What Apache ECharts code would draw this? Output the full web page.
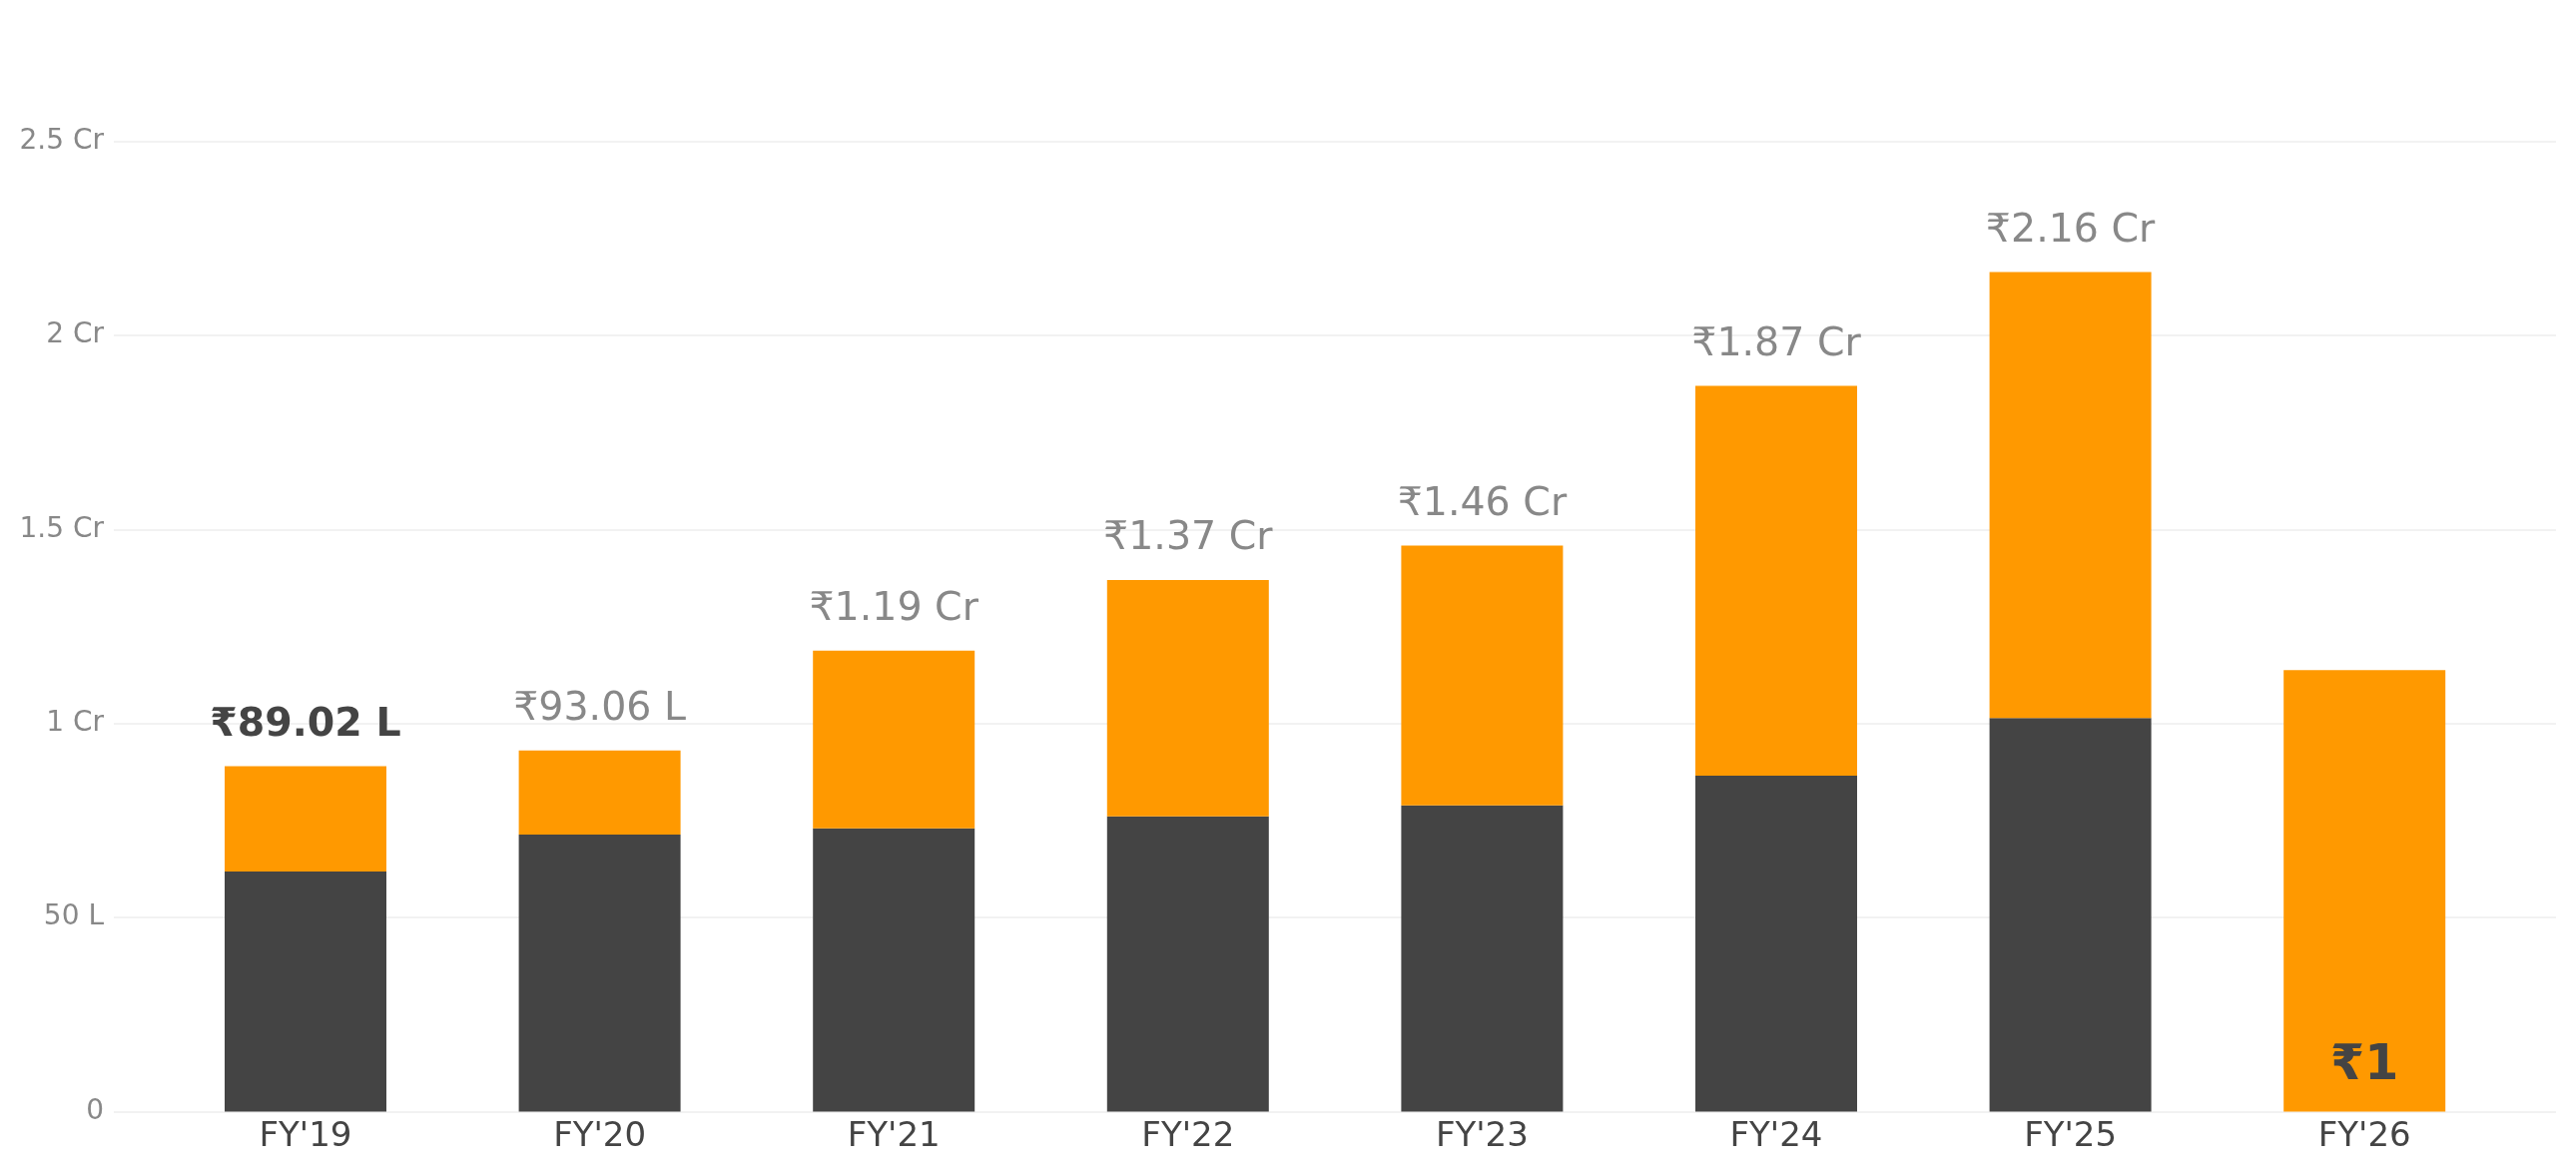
<!DOCTYPE html>
<html>
<head>
<meta charset="utf-8">
<script src="https://cdn.jsdelivr.net/npm/echarts@6/dist/echarts.min.js"></script>
<style>
html,body{margin:0;padding:0;background:#fff;}
#chart{width:2580px;height:1177px;}
</style>
</head>
<body>
<div id="chart"></div>
<script>
var categories = ["FY'19","FY'20","FY'21","FY'22","FY'23","FY'24","FY'25","FY'26"];
var darkValues = [6190000, 7140000, 7300000, 7607000, 7890000, 8657000, 10144000, 1];
var orangeValues = [2712000, 2166000, 4580000, 6093000, 6696000, 10043000, 11486000, 11374000];
var totalLabels = ['₹89.02 L','₹93.06 L','₹1.19 Cr','₹1.37 Cr','₹1.46 Cr','₹1.87 Cr','₹2.16 Cr','₹1'];
var yTickValues = [0, 5000000, 10000000, 15000000, 20000000, 25000000];
var yTickLabels = ['0','50 L','1 Cr','1.5 Cr','2 Cr','2.5 Cr'];

var FONT = 'DejaVu Sans';
var TOP = 141.5, BOTTOM = 63.4;

var orangeData = orangeValues.map(function (v, i) {
  var item = {value: v};
  if (i === 0) {
    item.label = {color: '#444444', fontWeight: 'bold'};
  }
  if (i === categories.length - 1) {
    item.label = {position: 'insideBottom', distance: 21, color: '#444444', fontWeight: 'bold', fontSize: 49};
  }
  return item;
});

var chart = echarts.init(document.getElementById('chart'), null, {renderer: 'canvas'});
chart.setOption({
  animation: false,
  backgroundColor: '#ffffff',
  grid: [
    {left: 114, right: 20, top: TOP, bottom: BOTTOM},
    {left: 158.7, right: 64.5, top: TOP, bottom: BOTTOM}
  ],
  xAxis: [
    {type: 'category', gridIndex: 0, data: categories, show: false},
    {
      type: 'category', gridIndex: 1, data: categories,
      axisLine: {show: false}, axisTick: {show: false},
      axisLabel: {color: '#444444', fontFamily: FONT, fontSize: 34, margin: 9}
    }
  ],
  yAxis: [
    {
      type: 'value', gridIndex: 0, min: 0, max: 25000000, interval: 5000000,
      axisLine: {show: false}, axisTick: {show: false},
      splitLine: {show: true, lineStyle: {color: '#f2f2f2', width: 2}},
      axisLabel: {
        color: '#888888', fontFamily: FONT, fontSize: 28, margin: 10,
        formatter: function (v) {
          var idx = yTickValues.indexOf(v);
          return idx >= 0 ? yTickLabels[idx] : '';
        }
      }
    },
    {type: 'value', gridIndex: 1, min: 0, max: 25000000, interval: 5000000, show: false, splitLine: {show: false}}
  ],
  series: [
    {
      type: 'bar', name: 'Base', xAxisIndex: 1, yAxisIndex: 1, stack: 'total',
      barWidth: 162, data: darkValues,
      itemStyle: {color: '#444444'}
    },
    {
      type: 'bar', name: 'Growth', xAxisIndex: 1, yAxisIndex: 1, stack: 'total',
      barWidth: 162, data: orangeData,
      itemStyle: {color: '#ff9900'},
      label: {
        show: true, position: 'top', distance: 21,
        color: '#888888', fontFamily: FONT, fontSize: 39.5,
        formatter: function (p) { return totalLabels[p.dataIndex]; }
      }
    }
  ]
});
</script>
</body>
</html>
